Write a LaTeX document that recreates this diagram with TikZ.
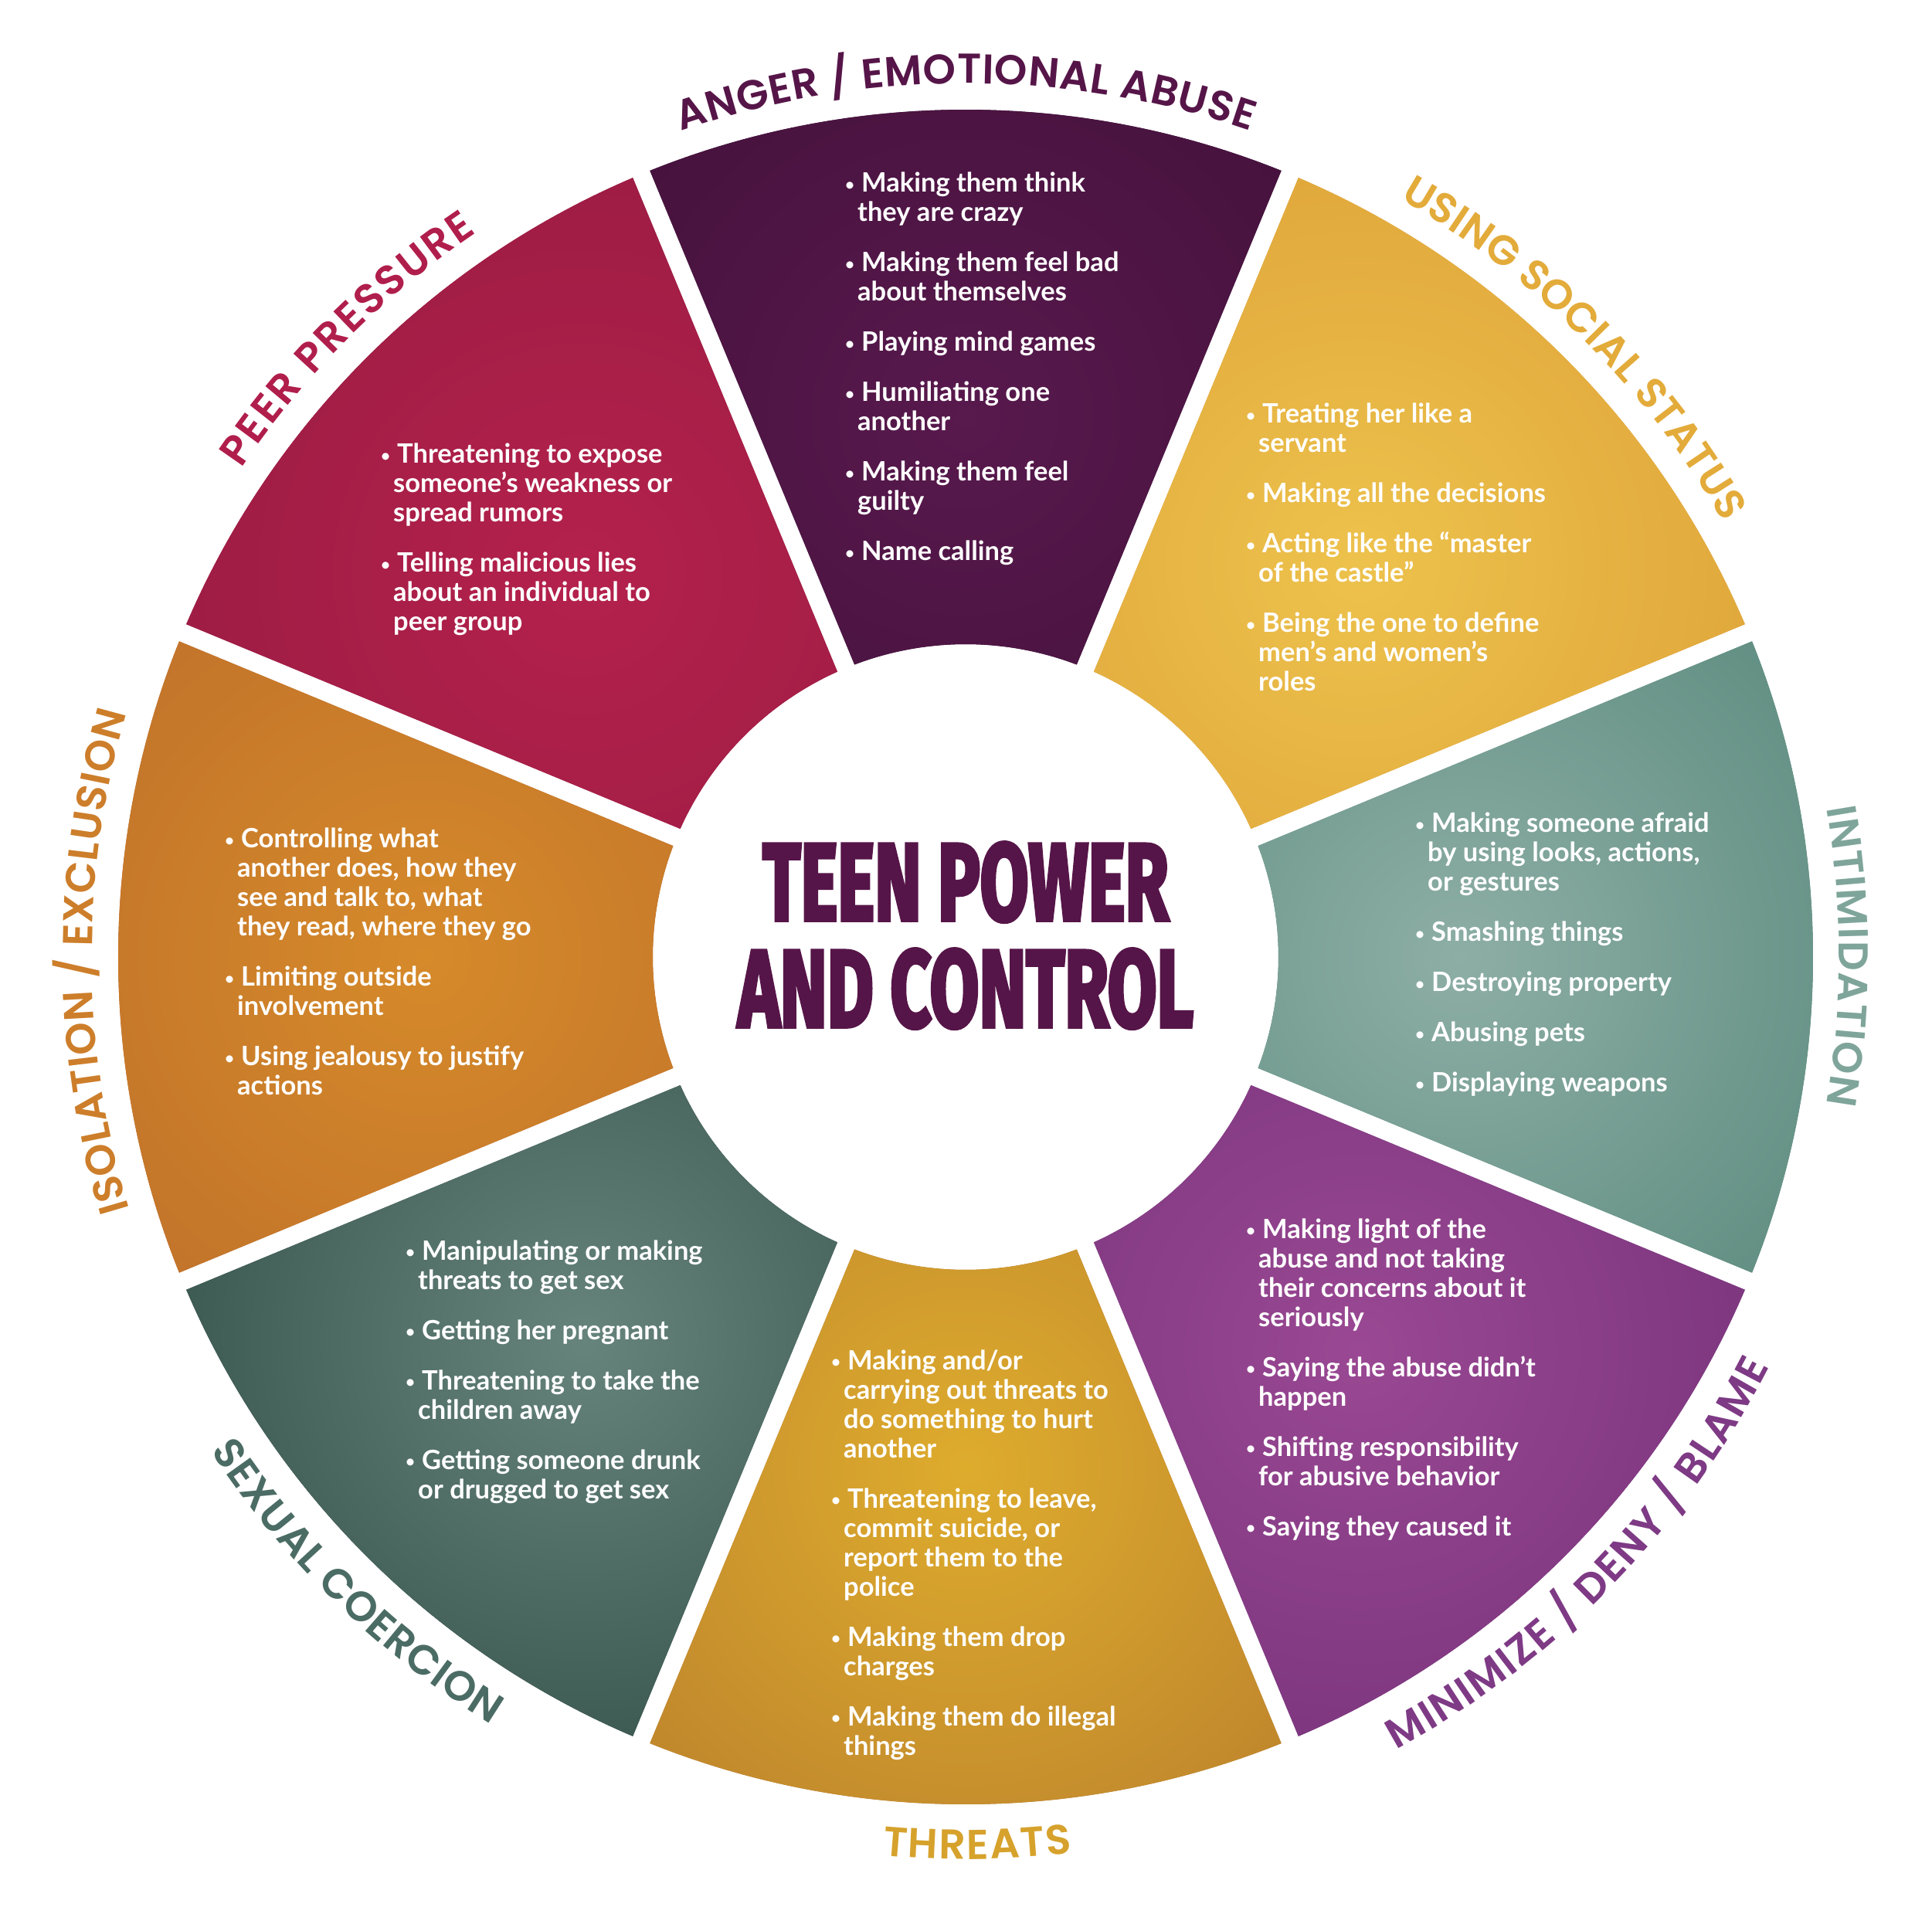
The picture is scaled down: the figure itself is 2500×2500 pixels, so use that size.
\documentclass[tikz,border=0pt]{standalone}
\usepackage{fontspec}
\usetikzlibrary{decorations.text}
\newfontfamily\bodyfontbase{Lato}
\newcommand\bodyfont{\bodyfontbase\bfseries}
\IfFontExistsTF{Poppins SemiBold}{\newfontfamily\lblfont{Poppins SemiBold}}{\newfontfamily\lblfontbase{Poppins}\newcommand\lblfont{\lblfontbase\bfseries}}
\IfFontExistsTF{Fira Sans Heavy}{\newfontfamily\ttlfont{Fira Sans Heavy}[FakeBold=3]}{\newfontfamily\ttlfontbase{Fira Sans}[BoldFeatures={FakeBold=4}]\newcommand\ttlfont{\ttlfontbase\bfseries}}
\definecolor{angerIn}{HTML}{58194D}\definecolor{angerOut}{HTML}{380D31}
\definecolor{usingIn}{HTML}{EDC24C}\definecolor{usingOut}{HTML}{D6922E}
\definecolor{intimIn}{HTML}{8DAEA5}\definecolor{intimOut}{HTML}{457A6C}
\definecolor{minimIn}{HTML}{9A4893}\definecolor{minimOut}{HTML}{65286E}
\definecolor{threatIn}{HTML}{DEAC2D}\definecolor{threatOut}{HTML}{AA6C2C}
\definecolor{sexIn}{HTML}{66847C}\definecolor{sexOut}{HTML}{1B3731}
\definecolor{isoIn}{HTML}{D68A2A}\definecolor{isoOut}{HTML}{B2622B}
\definecolor{peerIn}{HTML}{B4214C}\definecolor{peerOut}{HTML}{8C193E}
\definecolor{lAnger}{HTML}{561548}\definecolor{lUsing}{HTML}{E3AB3A}
\definecolor{lIntim}{HTML}{7FA59B}\definecolor{lMinim}{HTML}{7E3A85}
\definecolor{lThreat}{HTML}{D6A22C}\definecolor{lSex}{HTML}{4B6C64}
\definecolor{lIso}{HTML}{CD7E2A}\definecolor{lPeer}{HTML}{B01E4C}
\definecolor{cTitle}{HTML}{561548}
\newcommand\lblsize{\lblfont\fontsize{54}{54}\selectfont}
\newcommand\labA{\lblsize\color{lAnger}}
\newcommand\labU{\lblsize\color{lUsing}}
\newcommand\labI{\lblsize\color{lIntim}}
\newcommand\labM{\lblsize\color{lMinim}}
\newcommand\labT{\lblsize\color{lThreat}}
\newcommand\labS{\lblsize\color{lSex}}
\newcommand\labX{\lblsize\color{lIso}}
\newcommand\labP{\lblsize\color{lPeer}}
\newcommand\bitem[1]{\hbox{\makebox[21pt][l]{\raisebox{2.5pt}{\scalebox{0.6}{\textbullet}}}#1}}
\newcommand\citem[1]{\hbox{\kern16pt #1}}
\newcommand\itemgap{\vskip27pt}
\begin{document}
\begin{tikzpicture}[x=1pt,y=1pt,
  bodytxt/.style={text=white, font=\bodyfont\fontsize{34.5}{38}\selectfont, anchor=base west, inner sep=0pt},
  ttl/.style={text=cTitle, font=\ttlfont, anchor=base, inner sep=0pt},
  lbl/.style={decorate, decoration={text along path, text align={fit to path}, text={#1}}}]
\useasboundingbox (-1250,-1261) rectangle (1250,1239);
\fill[white] (-1250,-1261) rectangle (1250,1239);
\foreach \c/\ci/\co/\gr in {90/angerIn/angerOut/700, 45/usingIn/usingOut/720, 0/intimIn/intimOut/640, -45/minimIn/minimOut/720, -90/threatIn/threatOut/660, -135/sexIn/sexOut/700, 180/isoIn/isoOut/700, 135/peerIn/peerOut/700}{
  \pgfmathsetmacro\oa{\c-22.5+0.627}
  \pgfmathsetmacro\ob{\c+22.5-0.627}
  \pgfmathsetmacro\ia{\c+22.5-1.70}
  \pgfmathsetmacro\ib{\c-22.5+1.70}
  \begin{scope}
    \clip (\oa:1097pt) arc[start angle=\oa, end angle=\ob, radius=1097pt] -- (\ia:405pt) arc[start angle=\ia, end angle=\ib, radius=405pt] -- cycle;
    \fill[\co] (\c:\gr pt) circle[radius=1200pt];
    \shade[inner color=\ci, outer color=\co] (\c:\gr pt) circle[radius=960pt];
  \end{scope}
}
% outer labels
\path[lbl={|\labA|ANGER / EMOTIONAL ABUSE}] (109:1131pt) arc[start angle=109, end angle=71, radius=1131pt];
\path[lbl={|\labU|USING SOCIAL STATUS}] (60.2:1131pt) arc[start angle=60.2, end angle=29.8, radius=1131pt];
\path[lbl={|\labI|INTIMIDATION}] (9.8:1131pt) arc[start angle=9.8, end angle=-9.7, radius=1131pt];
\path[lbl={|\labX|ISOLATION / EXCLUSION}] (196.8:1131pt) arc[start angle=196.8, end angle=163.8, radius=1131pt];
\path[lbl={|\labP|PEER PRESSURE}] (146:1131pt) arc[start angle=146, end angle=124, radius=1131pt];
\path[lbl={|\labM|MINIMIZE / DENY / BLAME}] (-61.5:1168pt) arc[start angle=-61.5, end angle=-27, radius=1168pt];
\path[lbl={|\labT|THREATS}] (-95.3:1168pt) arc[start angle=-95.3, end angle=-83.2, radius=1168pt];
\path[lbl={|\labS|SEXUAL COERCION}] (-146.8:1168pt) arc[start angle=-146.8, end angle=-121.7, radius=1168pt];
% title
\node[ttl] (t1) at (0,48) {\resizebox{525pt}{100pt}{TEEN POWER}};
\node[ttl] (t2) at (0,-90) {\resizebox{589pt}{100pt}{AND CONTROL}};
% segment texts
\node[bodytxt] (anger) at (-156,990) {\vtop{\lineskiplimit=-1000pt\lineskip=0pt
 \bitem{Making them think}\citem{they are crazy}\itemgap
 \bitem{Making them feel bad}\citem{about themselves}\itemgap
 \bitem{Playing mind games}\itemgap
 \bitem{Humiliating one}\citem{another}\itemgap
 \bitem{Making them feel}\citem{guilty}\itemgap
 \bitem{Name calling}}};
\node[bodytxt] (using) at (363,691) {\vtop{\lineskiplimit=-1000pt\lineskip=0pt
 \bitem{Treating her like a}\citem{servant}\itemgap
 \bitem{Making all the decisions}\itemgap
 \bitem{Acting like the “master}\citem{of the castle”}\itemgap
 \bitem{Being the one to define}\citem{men’s and women’s}\citem{roles}}};
\node[bodytxt] (intim) at (582,161) {\vtop{\lineskiplimit=-1000pt\lineskip=0pt
 \bitem{Making someone afraid}\citem{by using looks, actions,}\citem{or gestures}\itemgap
 \bitem{Smashing things}\itemgap
 \bitem{Destroying property}\itemgap
 \bitem{Abusing pets}\itemgap
 \bitem{Displaying weapons}}};
\node[bodytxt] (minim) at (363,-364) {\vtop{\lineskiplimit=-1000pt\lineskip=0pt
 \bitem{Making light of the}\citem{abuse and not taking}\citem{their concerns about it}\citem{seriously}\itemgap
 \bitem{Saying the abuse didn’t}\citem{happen}\itemgap
 \bitem{Shifting responsibility}\citem{for abusive behavior}\itemgap
 \bitem{Saying they caused it}}};
\node[bodytxt] (threat) at (-174,-534) {\vtop{\lineskiplimit=-1000pt\lineskip=0pt
 \bitem{Making and/or}\citem{carrying out threats to}\citem{do something to hurt}\citem{another}\itemgap
 \bitem{Threatening to leave,}\citem{commit suicide, or}\citem{report them to the}\citem{police}\itemgap
 \bitem{Making them drop}\citem{charges}\itemgap
 \bitem{Making them do illegal}\citem{things}}};
\node[bodytxt] (sex) at (-725,-392) {\vtop{\lineskiplimit=-1000pt\lineskip=0pt
 \bitem{Manipulating or making}\citem{threats to get sex}\itemgap
 \bitem{Getting her pregnant}\itemgap
 \bitem{Threatening to take the}\citem{children away}\itemgap
 \bitem{Getting someone drunk}\citem{or drugged to get sex}}};
\node[bodytxt] (iso) at (-959,141) {\vtop{\lineskiplimit=-1000pt\lineskip=0pt
 \bitem{Controlling what}\citem{another does, how they}\citem{see and talk to, what}\citem{they read, where they go}\itemgap
 \bitem{Limiting outside}\citem{involvement}\itemgap
 \bitem{Using jealousy to justify}\citem{actions}}};
\node[bodytxt] (peer) at (-757,639) {\vtop{\lineskiplimit=-1000pt\lineskip=0pt
 \bitem{Threatening to expose}\citem{someone’s weakness or}\citem{spread rumors}\itemgap
 \bitem{Telling malicious lies}\citem{about an individual to}\citem{peer group}}};
\end{tikzpicture}
\end{document}
